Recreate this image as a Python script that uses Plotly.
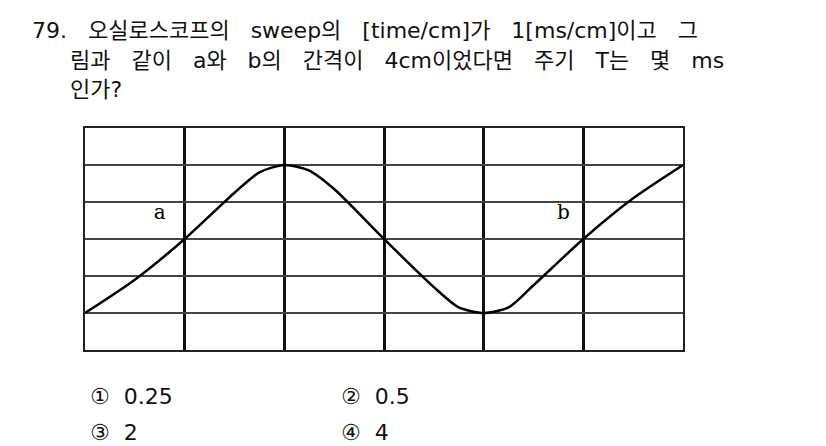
import plotly.graph_objects as go

# curve points (grid divisions)
curve_x = [0, 0.5, 1, 1.5, 1.75, 2, 2.25, 2.5, 3, 3.5, 3.75, 4, 4.25, 4.5, 5, 5.5, 6]
curve_y = [-2, -1.1, 0, 1.25, 1.8, 2, 1.85, 1.35, 0, -1.3, -1.85, -2, -1.85, -1.25, 0, 1.1, 2]
labels = ["a", "b"]
label_x = [0.75, 4.8]
label_y = [0.68, 0.68]

question = ["79. 오실로스코프의 sweep의 [time/cm]가 1[ms/cm]이고 그",
            "림과 같이 a와 b의 간격이 4cm이었다면 주기 T는 몇 ms",
            "인가?"]
options = ["① 0.25", "② 0.5", "③ 2", "④ 4"]

NB = "\u00a0"
def widen(s, n=3):
    # add spacing between words to mimic the wide source typeface
    return s.replace(" ", NB * n)

fig = go.Figure()
fig.add_trace(go.Scatter(x=curve_x, y=curve_y, mode="lines",
                         line=dict(color="black", width=2.5, shape="spline", smoothing=0.7),
                         hoverinfo="skip"))
fig.add_trace(go.Scatter(x=label_x, y=label_y, mode="text", text=labels,
                         textfont=dict(size=20, color="black", family="DejaVu Serif"),
                         hoverinfo="skip"))

fig.update_xaxes(domain=[77/826, 675/826], range=[0, 6], dtick=1, showgrid=True,
                 gridcolor="#111", gridwidth=2.5, zeroline=False, showticklabels=False,
                 showline=True, linecolor="#222", linewidth=2, mirror=True)
fig.update_yaxes(domain=[1-342/446, 1-120/446], range=[-3, 3], dtick=1, showgrid=True,
                 gridcolor="#444", gridwidth=1.5, zeroline=False, showticklabels=False,
                 showline=True, linecolor="#222", linewidth=2, mirror=True)

font = dict(family="DejaVu Sans, Noto Sans CJK KR", size=22, color="#111")
ann = []
pos = [(22, 22), (60, 52), (60, 82)]
for t, (x, y) in zip(question, pos):
    ann.append(dict(text=widen(t), x=x/826, y=1-y/446, xref="paper", yref="paper",
                    xanchor="left", yanchor="middle", showarrow=False, font=font))
opos = [(80, 388), (331, 388), (80, 424), (331, 424)]
for t, (x, y) in zip(options, opos):
    ann.append(dict(text=widen(t, 2), x=x/826, y=1-y/446, xref="paper", yref="paper",
                    xanchor="left", yanchor="middle", showarrow=False, font=font))

fig.update_layout(width=826, height=446, margin=dict(l=0, r=0, t=0, b=0),
                  paper_bgcolor="white", plot_bgcolor="white", showlegend=False,
                  annotations=ann)
fig.write_html("out.html")
